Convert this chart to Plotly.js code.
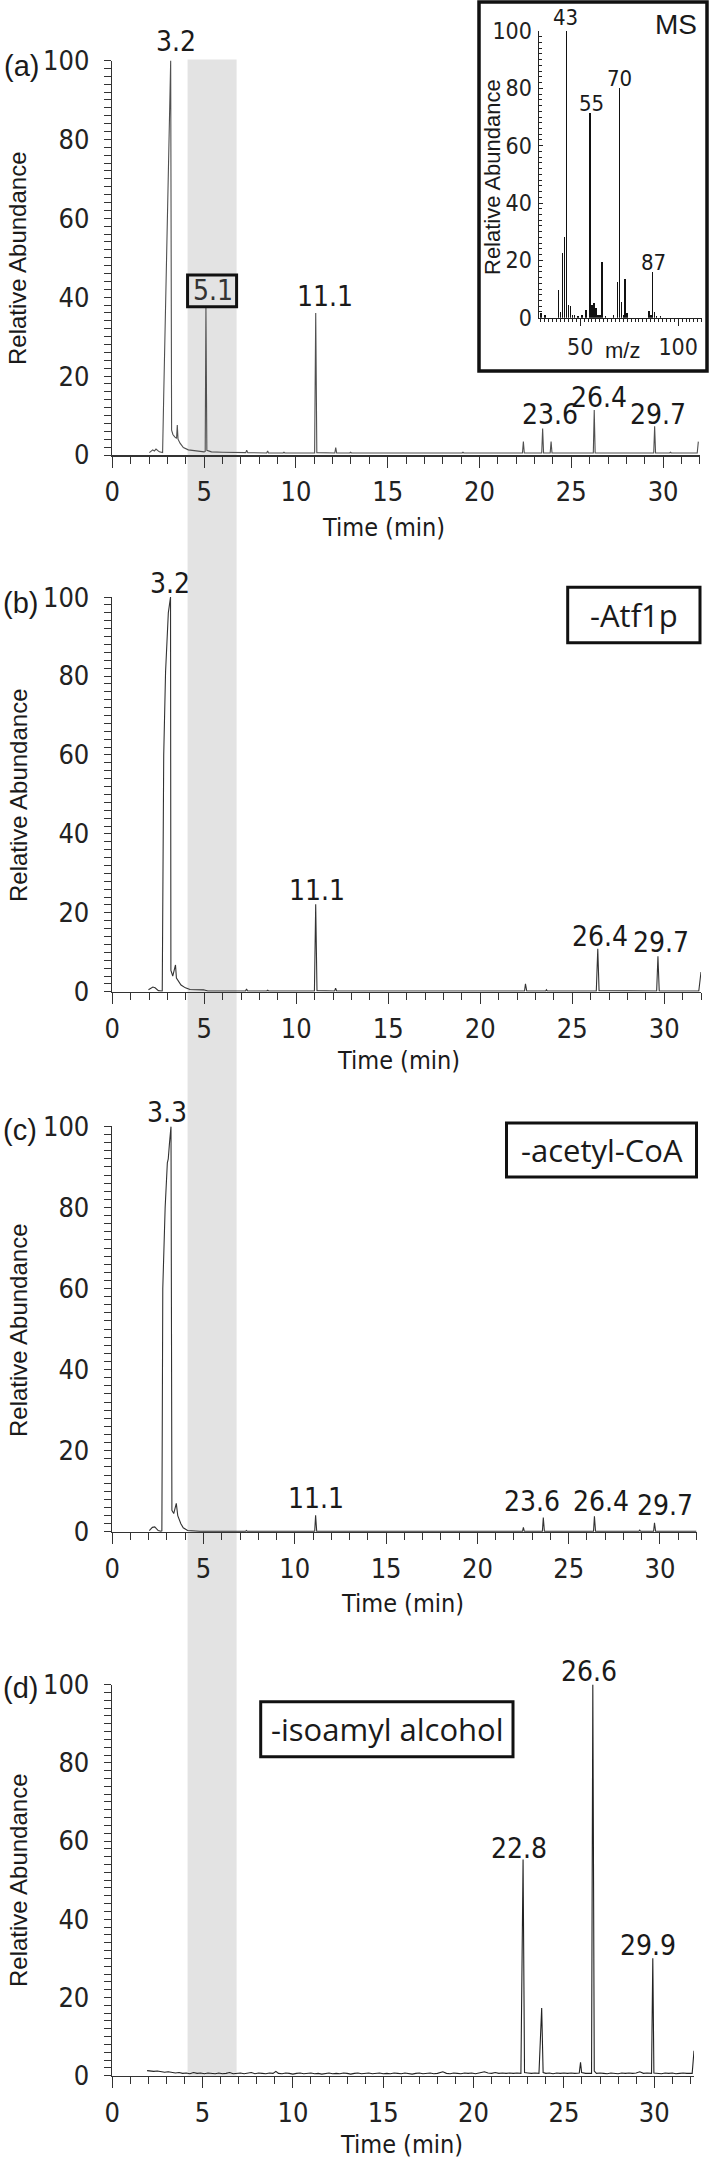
<!DOCTYPE html>
<html>
<head>
<meta charset="utf-8">
<script src="https://cdn.plot.ly/plotly-3.0.1.min.js"></script>
<style>
  body { margin: 0; background: #fff; }
  #plot { width: 709px; height: 2159px; }
</style>
</head>
<body>
<div id="plot"></div>
<script>
// (a) full reaction
const timeA = [2.02, 2.2, 2.29, 2.38, 2.56, 2.74, 2.80, 2.96, 3.09, 3.18,
  3.23, 3.3, 3.4, 3.5, 3.54, 3.58, 3.69, 3.87, 4.14, 4.6,
  5.0, 5.06, 5.1, 5.15, 5.4, 6.0, 7.0, 7.27, 7.32, 7.38,
  8.41, 8.46, 8.51, 9.3, 9.35, 9.4, 11.02, 11.08, 11.14, 12.12,
  12.17, 12.22, 12.93, 12.98, 13.03, 19.05, 19.1, 19.15, 22.34, 22.39,
  22.44, 23.39, 23.44, 23.49, 23.85, 23.9, 23.95, 26.2, 26.25, 26.3,
  29.49, 29.54, 29.59, 30.35, 30.4, 30.45, 31.86, 31.92];
const abundA = [0.6, 1.3, 1.0, 1.5, 0.8, 0.6, 15, 50, 82, 100,
  6.3, 5.2, 4.6, 4.2, 7.6, 4.0, 3.0, 1.9, 1.3, 1.0,
  0.8, 0.9, 37.6, 1.2, 0.8, 0.7, 0.6, 0.6, 1.2, 0.6,
  0.5, 1.0, 0.5, 0.5, 0.7, 0.5, 0.5, 36.0, 0.6, 0.5,
  1.9, 0.5, 0.5, 0.7, 0.5, 0.5, 0.7, 0.5, 0.5, 3.4,
  0.5, 0.5, 6.7, 0.5, 0.5, 3.4, 0.5, 0.5, 11.4, 0.5,
  0.5, 7.3, 0.5, 0.5, 0.7, 0.5, 0.5, 3.4];

// (b) -Atf1p
const timeB = [1.97, 2.21, 2.33, 2.51, 2.68, 2.72, 2.80, 2.90, 3.05, 3.17,
  3.19, 3.29, 3.44, 3.49, 3.74, 3.98, 4.23, 4.96, 5.2, 7.25,
  7.30, 7.36, 8.40, 8.45, 8.50, 10.99, 11.06, 11.13, 12.09, 12.14,
  12.2, 22.41, 22.46, 22.53, 23.56, 23.6, 23.65, 26.31, 26.39, 26.46,
  29.59, 29.66, 29.73, 31.88, 32.0];
const abundB = [0.5, 1.2, 1.0, 0.3, 0.2, 0.2, 60, 81, 96, 100,
  5.4, 4.0, 6.8, 3.5, 1.7, 1.0, 0.6, 0.5, 0.2, 0.2,
  0.7, 0.2, 0.2, 0.4, 0.2, 0.2, 22.2, 0.3, 0.2, 0.9,
  0.2, 0.2, 2.0, 0.2, 0.2, 0.5, 0.2, 0.2, 10.9, 0.3,
  0.2, 9.0, 0.2, 0.2, 5.0];

// (c) -acetyl-CoA
const timeC = [2.03, 2.2, 2.33, 2.52, 2.67, 2.72, 2.77, 2.9, 3.02, 3.07,
  3.14, 3.22, 3.27, 3.37, 3.51, 3.59, 3.76, 3.89, 4.13, 4.5,
  4.8, 7.3, 7.35, 7.4, 11.09, 11.14, 11.2, 22.47, 22.52, 22.57,
  23.56, 23.61, 23.67, 26.36, 26.41, 26.47, 28.84, 28.89, 28.94, 29.65,
  29.7, 29.76, 32.0];
const abundC = [0.3, 1.1, 1.2, 0.3, 0.1, 0.2, 60, 80, 91, 92,
  96, 100, 5.3, 4.5, 7.0, 4.0, 2.0, 1.0, 0.3, 0.2,
  0.1, 0.1, 0.3, 0.1, 0.1, 4.1, 0.1, 0.1, 1.1, 0.1,
  0.1, 3.5, 0.1, 0.1, 3.8, 0.1, 0.1, 0.4, 0.1, 0.1,
  2.2, 0.1, 0.1];

// (d) -isoamyl alcohol
const timeD = [1.93, 2.1, 2.3, 2.5, 2.7, 2.9, 3.1, 3.3, 3.5, 3.7,
  3.9, 4.1, 4.3, 4.5, 4.7, 4.9, 5.1, 5.3, 5.5, 5.7,
  5.9, 6.1, 6.3, 6.5, 6.7, 6.9, 7.1, 7.3, 7.5, 7.7,
  7.9, 8.1, 8.3, 8.5, 8.7, 8.9, 9.06, 9.2, 9.4, 9.6,
  9.8, 10.0, 10.2, 10.4, 10.6, 10.8, 11.0, 11.2, 11.4, 11.6,
  11.8, 12.0, 12.2, 12.4, 12.6, 12.8, 13.0, 13.2, 13.4, 13.6,
  13.8, 14.0, 14.2, 14.4, 14.6, 14.8, 15.0, 15.2, 15.4, 15.6,
  15.8, 16.0, 16.2, 16.4, 16.6, 16.8, 17.0, 17.2, 17.4, 17.6,
  17.8, 18.0, 18.3, 18.5, 18.7, 18.9, 19.1, 19.3, 19.5, 19.7,
  19.9, 20.1, 20.3, 20.6, 20.8, 21.0, 21.2, 21.4, 21.6, 21.8,
  22.0, 22.2, 22.4, 22.62, 22.74, 22.82, 23.0, 23.2, 23.4, 23.62,
  23.77, 23.85, 24.0, 24.2, 24.4, 24.6, 24.8, 25.0, 25.2, 25.4,
  25.6, 25.85, 25.92, 25.98, 26.2, 26.4, 26.53, 26.6, 26.68, 26.8,
  27.0, 27.2, 27.4, 27.6, 27.8, 28.0, 28.2, 28.4, 28.6, 28.8,
  29.0, 29.2, 29.4, 29.6, 29.85, 29.92, 29.98, 30.2, 30.4, 30.6,
  30.8, 31.0, 31.2, 31.4, 31.6, 31.8, 32.0, 32.1, 32.2];
const abundD = [1.3, 1.2, 1.1, 1.2, 1.0, 0.9, 1.0, 0.8, 0.7, 0.8,
  0.6, 0.7, 0.5, 0.8, 0.6, 0.7, 0.5, 0.7, 0.6, 0.5,
  0.7, 0.5, 0.6, 0.8, 0.5, 0.6, 0.7, 0.5, 0.6, 0.8,
  0.5, 0.7, 0.6, 0.5, 0.7, 0.6, 1.1, 0.6, 0.5, 0.7,
  0.6, 0.4, 0.6, 0.7, 0.5, 0.6, 0.7, 0.5, 0.6, 0.4,
  0.6, 0.7, 0.5, 0.6, 0.5, 0.7, 0.6, 0.4, 0.6, 0.7,
  0.5, 0.6, 0.7, 0.5, 0.6, 0.7, 0.5, 0.6, 0.5, 0.7,
  0.6, 0.5, 0.7, 0.6, 0.4, 0.6, 0.7, 0.5, 0.6, 0.7,
  0.5, 0.6, 1.0, 0.6, 0.5, 0.7, 0.6, 0.5, 0.7, 0.6,
  0.7, 0.5, 0.7, 1.0, 0.7, 0.6, 0.8, 0.6, 0.7, 0.6,
  0.7, 0.6, 0.7, 0.6, 55.3, 0.8, 0.7, 0.6, 0.7, 0.6,
  17.3, 0.8, 0.6, 0.7, 0.5, 0.7, 0.6, 0.7, 0.6, 0.7,
  0.6, 0.7, 3.4, 0.8, 0.6, 0.7, 0.6, 100, 1.2, 0.6,
  0.7, 0.6, 0.5, 0.7, 0.6, 0.5, 0.7, 0.6, 0.7, 0.6,
  0.7, 1.0, 0.6, 0.7, 0.6, 30.0, 0.7, 0.6, 0.5, 0.7,
  0.6, 0.7, 0.5, 0.6, 0.7, 0.6, 0.5, 0.6, 6.4];

// MS inset (peak at 5.1 min)
const msMz = [30, 32, 39, 40, 41, 42, 43, 44, 45, 46, 47, 49, 51, 53, 55, 56, 57, 58,
  59, 60, 61, 63, 67, 69, 70, 71, 72, 73, 74, 85, 86, 87, 88, 89, 91];
const msAbund = [1.5, 1, 9.7, 2, 22.4, 28.3, 100, 4.4, 4, 1, 0.8, 0.5, 1, 2.8, 71.5, 4.5, 5, 3.5,
  0.8, 1, 19.5, 0.5, 1, 12.6, 80, 5.6, 0.8, 13.5, 1.5, 2.5, 0.8, 16, 2, 0.6, 0.5];

const W = 709, H = 2159;
const FONT = 'Liberation Sans, Arial, Helvetica, sans-serif';
const NARROW = 'Liberation Sans Narrow, Arial Narrow, DejaVu Sans Condensed, sans-serif';
const BOXFONT = 'Open Sans, Noto Sans, sans-serif';
const fx = x => x / W;
const fy = y => 1 - y / H;

function timeAxis(x0, x1, range, anchor) {
  return {
    domain: [fx(x0), fx(x1)], range: range, anchor: anchor,
    showgrid: false, zeroline: false, showline: true, linecolor: '#333', linewidth: 1.5,
    ticks: 'outside', ticklen: 11, tickwidth: 1, tickcolor: '#333',
    tick0: 0, dtick: 5,
    minor: { dtick: 1, ticks: 'outside', ticklen: 7, tickwidth: 1, tickcolor: '#333', showgrid: false },
    tickfont: { family: NARROW, size: 27, color: '#222' },
    ticklabelstandoff: 1
  };
}

function abundAxis(yZero, yHundred, anchor) {
  return {
    domain: [fy(yZero), fy(yHundred)], range: [0, 100], anchor: anchor,
    showgrid: false, zeroline: false, showline: true, linecolor: '#333', linewidth: 1.5,
    ticks: 'outside', ticklen: 7, tickwidth: 1, tickcolor: '#333',
    tick0: 0, dtick: 20,
    minor: { dtick: 2, ticks: 'outside', ticklen: 7, tickwidth: 1, tickcolor: '#333', showgrid: false },
    tickfont: { family: NARROW, size: 27, color: '#222' },
    ticklabelstandoff: 9
  };
}

function chrom(x, y, xa, ya, color) {
  return { x: x, y: y, xaxis: xa, yaxis: ya, type: 'scatter', mode: 'lines',
    line: { color: color, width: 1.1 }, hoverinfo: 'skip', cliponaxis: false };
}

const data = [
  chrom(timeA, abundA, 'x', 'y', '#505050'),
  chrom(timeB, abundB, 'x2', 'y2', '#333'),
  chrom(timeC, abundC, 'x3', 'y3', '#333'),
  chrom(timeD, abundD, 'x4', 'y4', '#222'),
  { x: msMz, y: msAbund, xaxis: 'x5', yaxis: 'y5', type: 'bar', width: 0.8,
    marker: { color: '#111', line: { width: 0 } }, hoverinfo: 'skip' }
];

function txt(text, xpx, ypx, size, extra, family) {
  return Object.assign({
    text: text, xref: 'paper', yref: 'paper', x: fx(xpx), y: fy(ypx),
    xanchor: 'center', yanchor: 'middle', showarrow: false,
    font: { family: family || FONT, size: size, color: '#1a1a1a' }
  }, extra || {});
}
const num = (text, xpx, ypx, size) => txt(text, xpx, ypx, size || 28, null, NARROW);

const annotations = [
  // panel letters
  txt('(a)', 21, 66, 29), txt('(b)', 20, 603, 29), txt('(c)', 20, 1130, 29), txt('(d)', 20, 1688, 29),
  // axis titles
  txt('Relative Abundance', 18, 258, 24, { textangle: -90 }),
  txt('Relative Abundance', 18, 795, 24, { textangle: -90 }),
  txt('Relative Abundance', 18, 1330, 24, { textangle: -90 }),
  txt('Relative Abundance', 18, 1880, 24, { textangle: -90 }),
  txt('Time (min)', 383, 527, 25, null, NARROW), txt('Time (min)', 398, 1061, 25, null, NARROW),
  txt('Time (min)', 402, 1603, 25, null, NARROW), txt('Time (min)', 401, 2144, 25, null, NARROW),
  // peak labels (a)
  num('3.2', 176, 42), txt('5.1', 213, 291, 26, { font: { family: NARROW, size: 28, color: '#333' } }),
  num('11.1', 325, 297), num('23.6', 550, 414), num('26.4', 599, 397), num('29.7', 658, 414),
  // (b)
  num('3.2', 170, 583), num('11.1', 317, 890), num('26.4', 600, 936), num('29.7', 661, 942),
  // (c)
  num('3.3', 167, 1112), num('11.1', 316, 1498), num('23.6', 532, 1501),
  num('26.4', 601, 1501), num('29.7', 665, 1505),
  // (d)
  num('26.6', 589, 1671), num('22.8', 519, 1848), num('29.9', 648, 1945),
  // boxed condition labels
  txt('-Atf1p', 634, 615, 31, null, BOXFONT),
  txt('-acetyl-CoA', 602, 1150, 31, null, BOXFONT),
  txt('-isoamyl alcohol', 387, 1729, 31, null, BOXFONT),
  // inset
  txt('MS', 676, 24, 28), txt('m/z', 622, 350, 22),
  txt('Relative Abundance', 493, 177, 22, { textangle: -90 }),
  num('43', 565, 18, 22), num('55', 591, 103, 22), num('70', 619, 78, 22), num('87', 653, 262, 22)
];

function box(x0, y0, x1, y1, w, fill, layer) {
  return { type: 'rect', xref: 'paper', yref: 'paper', x0: fx(x0), x1: fx(x1), y0: fy(y1), y1: fy(y0),
    line: { color: '#111', width: w }, fillcolor: fill, layer: layer };
}

const shapes = [
  // shaded retention window across all panels
  { type: 'rect', xref: 'x', yref: 'paper', x0: 4.1, x1: 6.77, y0: fy(2075.7), y1: fy(59.6),
    fillcolor: '#e3e3e3', line: { width: 0 }, layer: 'below' },
  // inset frame
  box(479, 2, 707, 371, 3.5, '#fff', 'below'),
  // 5.1 box
  { type: 'rect', xref: 'x', yref: 'y', x0: 4.1, x1: 6.77, y0: 37.6, y1: 45.6,
    line: { color: '#111', width: 3 }, fillcolor: 'rgba(0,0,0,0)', layer: 'above' },
  box(567.7, 587.3, 700, 642.7, 3, '#fff', 'above'),
  box(506.5, 1122.9, 696.5, 1177.1, 3, '#fff', 'above'),
  box(260.7, 1701.7, 513, 1756.7, 3, '#fff', 'above')
];

const layout = {
  width: W, height: H, margin: { l: 0, r: 0, t: 0, b: 0 },
  paper_bgcolor: '#fff', plot_bgcolor: 'rgba(0,0,0,0)',
  showlegend: false, bargap: 0,
  xaxis: timeAxis(112.3, 699.8, [0, 32], 'y'),
  yaxis: abundAxis(455, 60.5, 'x'),
  xaxis2: timeAxis(112.2, 701, [0, 32], 'y2'),
  yaxis2: abundAxis(991.8, 597.1, 'x2'),
  xaxis3: timeAxis(112.2, 696.5, [0, 32], 'y3'),
  yaxis3: abundAxis(1531.8, 1126.4, 'x3'),
  xaxis4: timeAxis(112.2, 694, [0, 32.2], 'y4'),
  yaxis4: abundAxis(2075.7, 1684.6, 'x4'),
  xaxis5: {
    domain: [fx(539), fx(701.7)], range: [29, 112], anchor: 'y5',
    showgrid: false, zeroline: false, showline: true, linecolor: '#222', linewidth: 1.5,
    ticks: 'outside', ticklen: 7, tickwidth: 1, tickcolor: '#222', tickvals: [50, 100],
    minor: { dtick: 2, tick0: 0, ticks: 'outside', ticklen: 3, tickwidth: 1, tickcolor: '#222', showgrid: false },
    tickfont: { family: NARROW, size: 23, color: '#222' }, ticklabelstandoff: 1
  },
  yaxis5: {
    domain: [fy(317.7), fy(31)], range: [0, 100], anchor: 'x5',
    showgrid: false, zeroline: false, showline: true, linecolor: '#222', linewidth: 1.5,
    ticks: 'inside', ticklen: 4, tickwidth: 1, tickcolor: '#222', tick0: 0, dtick: 20,
    minor: { dtick: 2, ticks: 'inside', ticklen: 3, tickwidth: 1, tickcolor: '#222', showgrid: false },
    tickfont: { family: NARROW, size: 23, color: '#222' }, ticklabelstandoff: 1
  },
  shapes: shapes,
  annotations: annotations
};

Plotly.newPlot('plot', data, layout, { displayModeBar: false, staticPlot: true });
</script>
</body>
</html>
